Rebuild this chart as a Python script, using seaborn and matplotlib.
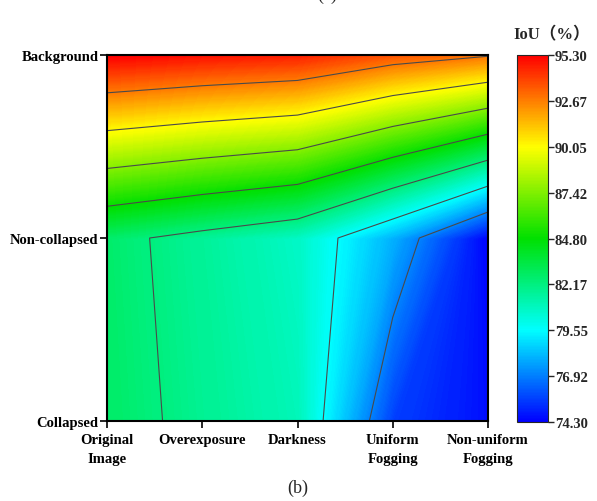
import numpy as np
import matplotlib
matplotlib.use("Agg")
import matplotlib.pyplot as plt
import seaborn as sns

# === Data (IoU %) ===
conditions = ["Original\nImage", "Overexposure", "Darkness", "Uniform\nFogging", "Non-uniform\nFogging"]
classes = ["Collapsed", "Non-collapsed", "Background"]
iou_collapsed = [82.7, 81.8, 81.0, 75.6, 74.6]
iou_noncollapsed = [82.6, 81.65, 80.74, 77.94, 74.3]
iou_background = [95.3, 94.9, 94.6, 93.5, 92.8]

cbar_ticks = [74.30, 76.925, 79.55, 82.175, 84.80, 87.425, 90.05, 92.675, 95.30]
cbar_labels = ["74.30", "76.92", "79.55", "82.17", "84.80", "87.42", "90.05", "92.67", "95.30"]

# === Style ===
sns.set_style("ticks")
plt.rcParams["font.family"] = ["Liberation Serif", "Noto Sans CJK SC"]
plt.rcParams["font.weight"] = "bold"

cmap = sns.blend_palette(["#0000ff", "#00ffff", "#00e000", "#ffff00", "#ff0000"], as_cmap=True)
vmin, vmax = cbar_ticks[0], cbar_ticks[-1]

Z = np.array([iou_collapsed, iou_noncollapsed, iou_background])
X, Y = np.meshgrid(np.arange(len(conditions)), np.arange(len(classes)))

fig = plt.figure(figsize=(5.97, 5.02), dpi=100)
ax = fig.add_axes([107 / 597, 80 / 502, 381 / 597, 366 / 502])
cax = fig.add_axes([517 / 597, 79 / 502, 31 / 597, 367 / 502])

# smooth fill + contour lines
cf = ax.contourf(X, Y, Z, levels=np.linspace(vmin, vmax, 301), cmap=cmap, vmin=vmin, vmax=vmax)
cf.set_edgecolor("face")
ax.contour(X, Y, Z, levels=cbar_ticks[1:-1], colors="#4a4a4a", linewidths=0.8)

ax.set_xlim(0, len(conditions) - 1)
ax.set_ylim(0, len(classes) - 1)
ax.set_xticks(range(len(conditions)))
ax.set_xticklabels(conditions, linespacing=1.6)
ax.set_yticks(range(len(classes)))
ax.set_yticklabels(classes)
ax.tick_params(direction="out", length=5, width=1.2, labelsize=10.5, colors="black")
ax.tick_params(axis="x", pad=4)
ax.tick_params(axis="y", pad=1)
for s in ax.spines.values():
    s.set_linewidth(1.5)
    s.set_color("black")

# colorbar
sm = plt.cm.ScalarMappable(cmap=cmap, norm=plt.Normalize(vmin, vmax))
cb = fig.colorbar(sm, cax=cax, ticks=cbar_ticks)
cb.set_ticklabels(cbar_labels)
cb.outline.set_linewidth(0.8)
cax.tick_params(direction="out", length=4, width=1, labelsize=10.5, pad=1)
fig.text(552 / 597, 1 - 35 / 502, "IoU（%）", ha="center", va="center", fontsize=12, fontweight="bold")

# panel labels (the top one is cut by the image edge, as in the reference)
fig.text(298 / 597, 1 - 488 / 502, "(b)", ha="center", va="center", fontsize=13, fontweight="normal")
fig.text(327 / 597, 1 - 4 / 502, "(a)", ha="center", va="bottom", fontsize=13, fontweight="normal")

plt.savefig("out.png", dpi=100)
plt.close()
